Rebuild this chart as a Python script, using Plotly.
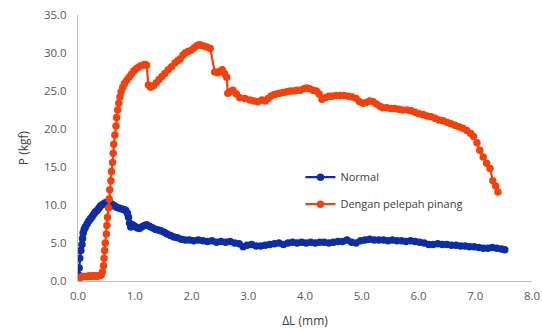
import plotly.graph_objects as go

# Normal series
normal_x = [0.00, 0.01, 0.02, 0.03, 0.05, 0.07, 0.08, 0.09, 0.11, 0.13, 0.16, 0.19, 0.22, 0.25, 0.28, 0.31,
            0.34, 0.37, 0.40, 0.44, 0.48, 0.52, 0.56, 0.60, 0.64, 0.68, 0.72, 0.76, 0.80, 0.84, 0.87, 0.89,
            0.91, 0.93, 0.96, 1.00, 1.04, 1.08, 1.12, 1.17, 1.21, 1.26, 1.31, 1.36, 1.41, 1.46, 1.52, 1.57,
            1.63, 1.69, 1.75, 1.82, 1.89, 1.96, 2.04, 2.12, 2.20, 2.28, 2.36, 2.44, 2.52, 2.60, 2.68, 2.76,
            2.84, 2.91, 2.98, 3.06, 3.14, 3.22, 3.30, 3.38, 3.46, 3.54, 3.62, 3.70, 3.78, 3.86, 3.94, 4.02,
            4.10, 4.18, 4.26, 4.34, 4.42, 4.50, 4.58, 4.66, 4.74, 4.82, 4.90, 4.98, 5.06, 5.14, 5.22, 5.30,
            5.38, 5.46, 5.54, 5.62, 5.70, 5.78, 5.86, 5.94, 6.02, 6.10, 6.18, 6.26, 6.34, 6.42, 6.50, 6.58,
            6.66, 6.74, 6.82, 6.90, 6.98, 7.06, 7.14, 7.22, 7.30, 7.38, 7.46, 7.52]
normal_y = [0.0, 0.8, 1.7, 3.0, 4.0, 4.8, 5.6, 6.3, 6.8, 7.1, 7.5, 7.9, 8.2, 8.5, 8.8, 9.1,
            9.3, 9.6, 9.9, 10.1, 10.3, 10.4, 10.3, 10.1, 9.9, 9.7, 9.6, 9.5, 9.4, 9.3, 8.9, 8.4,
            7.6, 7.1, 7.4, 7.2, 7.0, 6.9, 7.1, 7.3, 7.4, 7.2, 7.0, 6.8, 6.7, 6.6, 6.4, 6.2,
            6.0, 5.8, 5.7, 5.5, 5.4, 5.4, 5.3, 5.4, 5.3, 5.2, 5.3, 5.1, 5.2, 5.1, 5.2, 5.0,
            4.9, 4.5, 4.7, 4.8, 4.6, 4.6, 4.7, 4.8, 4.9, 5.0, 4.8, 5.0, 5.1, 5.0, 5.1, 5.0,
            5.1, 5.0, 5.1, 5.1, 5.0, 5.1, 5.2, 5.2, 5.4, 5.1, 5.0, 5.3, 5.4, 5.5, 5.4, 5.4,
            5.4, 5.3, 5.4, 5.3, 5.3, 5.2, 5.3, 5.2, 5.1, 5.0, 4.8, 4.8, 4.9, 4.8, 4.8, 4.7,
            4.7, 4.6, 4.6, 4.5, 4.5, 4.4, 4.3, 4.3, 4.4, 4.3, 4.2, 4.1]

# Dengan pelepah pinang series
pinang_x = [0.00, 0.02, 0.05, 0.08, 0.11, 0.14, 0.17, 0.20, 0.23, 0.26, 0.29, 0.32, 0.35, 0.38, 0.41, 0.43,
            0.45, 0.46, 0.47, 0.48, 0.50, 0.51, 0.52, 0.54, 0.55, 0.56, 0.58, 0.59, 0.61, 0.62, 0.63, 0.65,
            0.67, 0.68, 0.70, 0.72, 0.74, 0.76, 0.79, 0.82, 0.86, 0.90, 0.94, 0.98, 1.02, 1.06, 1.10, 1.14,
            1.18, 1.21, 1.24, 1.28, 1.33, 1.38, 1.43, 1.48, 1.53, 1.59, 1.65, 1.71, 1.76, 1.80, 1.85, 1.89,
            1.94, 2.00, 2.05, 2.10, 2.14, 2.18, 2.23, 2.27, 2.33, 2.41, 2.46, 2.50, 2.54, 2.58, 2.62, 2.64,
            2.68, 2.73, 2.79, 2.85, 2.94, 3.03, 3.10, 3.17, 3.24, 3.30, 3.35, 3.40, 3.45, 3.50, 3.56, 3.62,
            3.68, 3.74, 3.80, 3.86, 3.92, 3.98, 4.03, 4.08, 4.14, 4.20, 4.25, 4.30, 4.36, 4.42, 4.48, 4.55,
            4.62, 4.69, 4.76, 4.83, 4.90, 4.96, 5.02, 5.08, 5.14, 5.20, 5.26, 5.32, 5.37, 5.44, 5.51, 5.58,
            5.65, 5.72, 5.80, 5.87, 5.94, 6.01, 6.08, 6.15, 6.22, 6.29, 6.36, 6.43, 6.50, 6.57, 6.64, 6.71,
            6.78, 6.85, 6.92, 6.97, 7.03, 7.08, 7.14, 7.20, 7.26, 7.31, 7.36, 7.40]
pinang_y = [0.0, 0.3, 0.5, 0.6, 0.6, 0.6, 0.6, 0.7, 0.6, 0.7, 0.7, 0.6, 0.7, 0.7, 0.8, 1.2,
            2.0, 3.0, 4.0, 5.0, 6.2, 7.3, 8.4, 9.6, 10.8, 12.0, 13.2, 14.4, 15.6, 16.8, 18.0, 19.2,
            20.4, 21.5, 22.5, 23.4, 24.2, 24.9, 25.5, 26.0, 26.4, 26.8, 27.2, 27.6, 27.9, 28.1, 28.3, 28.4,
            28.5, 28.4, 25.8, 25.5, 25.7, 26.1, 26.5, 26.9, 27.3, 27.8, 28.2, 28.7, 29.0, 29.2, 29.7, 30.0,
            30.2, 30.4, 30.7, 31.0, 31.1, 31.0, 30.9, 30.8, 30.6, 27.5, 27.4, 27.6, 27.8, 27.3, 26.8, 24.7,
            24.9, 25.1, 24.6, 24.1, 24.0, 23.8, 23.7, 23.6, 23.8, 23.7, 24.0, 24.3, 24.5, 24.6, 24.7, 24.8,
            24.9, 25.0, 25.0, 25.1, 25.1, 25.3, 25.4, 25.3, 25.1, 25.0, 24.6, 23.9, 24.1, 24.3, 24.3, 24.4,
            24.4, 24.4, 24.3, 24.2, 24.0, 23.6, 23.4, 23.5, 23.7, 23.6, 23.3, 23.0, 22.8, 22.8, 22.7, 22.7,
            22.6, 22.5, 22.5, 22.4, 22.2, 22.0, 21.9, 21.7, 21.6, 21.4, 21.2, 21.1, 20.9, 20.7, 20.5, 20.3,
            20.1, 19.8, 19.4, 19.0, 18.2, 17.2, 16.3, 15.5, 14.8, 13.2, 12.5, 11.7]

x_ticks = [0, 1, 2, 3, 4, 5, 6, 7, 8]
y_ticks = [0, 5, 10, 15, 20, 25, 30, 35]

BLUE = "#0E2CA3"
ORANGE = "#F0420F"
FONT = "Open Sans, Liberation Sans, sans-serif"

fig = go.Figure()
fig.add_trace(go.Scatter(x=normal_x, y=normal_y, name="Normal", mode="lines+markers",
                         legendgroup="a",
                         line=dict(color=BLUE, width=2.2),
                         marker=dict(color=BLUE, size=7.5)))
fig.add_trace(go.Scatter(x=pinang_x, y=pinang_y, name="Dengan pelepah pinang", mode="lines+markers",
                         legendgroup="b",
                         line=dict(color=ORANGE, width=2.2),
                         marker=dict(color=ORANGE, size=7.5)))

axis_font = dict(family=FONT, size=11.5, color="#595959")

fig.update_layout(
    width=542, height=333,
    margin=dict(l=78, r=10, t=15, b=52),
    paper_bgcolor="white", plot_bgcolor="white",
    showlegend=True,
    legend=dict(x=0.49, y=0.445, xanchor="left", yanchor="top",
                font=dict(family=FONT, size=11, color="#404040"),
                bgcolor="rgba(0,0,0,0)", traceorder="grouped", tracegroupgap=8),
    xaxis=dict(range=[0, 8], tickvals=x_ticks, ticktext=[f"{v:.1f}" for v in x_ticks],
               showgrid=False, zeroline=False, showline=True, linecolor="#BFBFBF", linewidth=1,
               ticks="", tickfont=axis_font, ticklabelstandoff=4, automargin=False,
               title=dict(text="ΔL (mm)", font=dict(family=FONT, size=12, color="#404040"), standoff=14)),
    yaxis=dict(range=[0, 35], tickvals=y_ticks, ticktext=[f"{v:.1f}" for v in y_ticks],
               showgrid=False, zeroline=False, showline=True, linecolor="#BFBFBF", linewidth=1,
               ticks="", tickfont=axis_font, ticklabelstandoff=8, automargin=False,
               title=dict(text="P (kgf)", font=dict(family=FONT, size=12, color="#404040"), standoff=12)),
)

fig.write_html("out.html")
